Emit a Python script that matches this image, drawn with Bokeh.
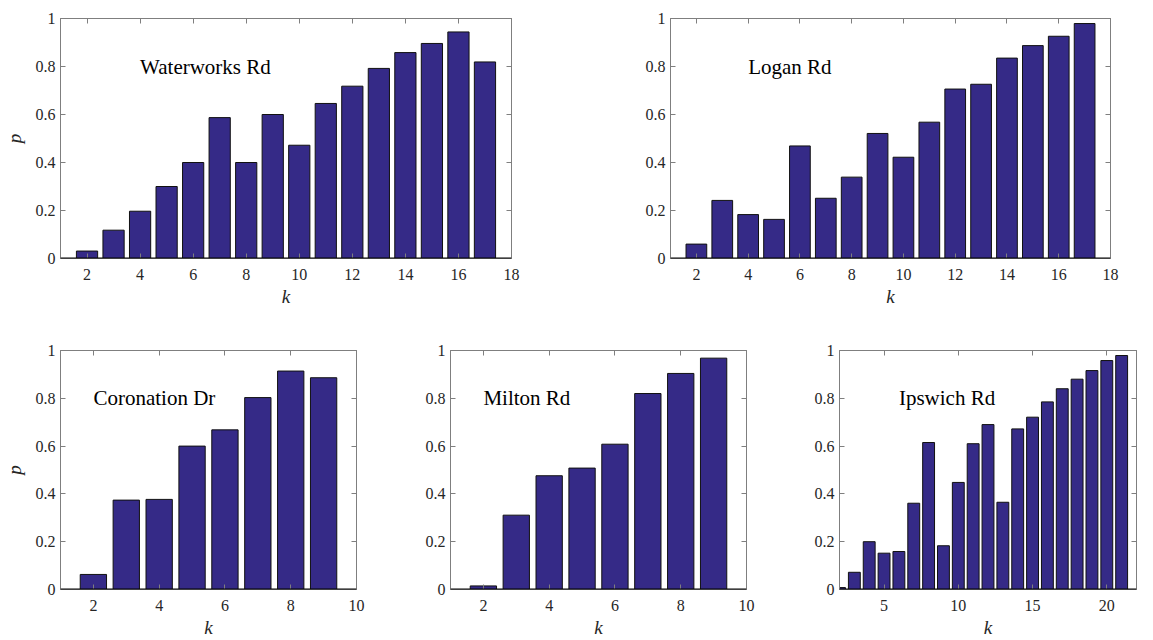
from bokeh.plotting import figure
from bokeh.layouts import column, row
from bokeh.models import LinearAxis, FixedTicker, Span, Range1d, Label
from bokeh.embed import file_html
from bokeh.resources import INLINE

# ---- data ----
names = ["Waterworks Rd", "Logan Rd", "Coronation Dr", "Milton Rd", "Ipswich Rd"]

k_waterworks = list(range(2, 18))
p_waterworks = [0.031, 0.118, 0.197, 0.30, 0.40, 0.587, 0.40, 0.60, 0.472, 0.646,
                0.718, 0.792, 0.858, 0.896, 0.944, 0.819]

k_logan = list(range(2, 18))
p_logan = [0.06, 0.242, 0.183, 0.163, 0.469, 0.251, 0.339, 0.521, 0.422, 0.568,
           0.706, 0.726, 0.835, 0.887, 0.926, 0.979]

k_coronation = list(range(2, 10))
p_coronation = [0.063, 0.374, 0.377, 0.60, 0.668, 0.803, 0.914, 0.886]

k_milton = list(range(2, 10))
p_milton = [0.015, 0.311, 0.476, 0.508, 0.608, 0.82, 0.904, 0.968]

k_ipswich = list(range(2, 22))
p_ipswich = [0.008, 0.072, 0.20, 0.152, 0.159, 0.361, 0.615, 0.183, 0.448, 0.61,
             0.69, 0.365, 0.672, 0.721, 0.785, 0.84, 0.88, 0.916, 0.958, 0.979]

ticks_wide = [2, 4, 6, 8, 10, 12, 14, 16, 18]
ticks_short = [2, 4, 6, 8, 10]
ticks_ipswich = [5, 10, 15, 20]
y_ticks = [0, 0.2, 0.4, 0.6, 0.8, 1]

SERIF = "Liberation Serif"
BAR = "#352a87"
AXC = "#7f7f7f"
TXT = "#262626"


def panel(k, p, name, xr, xticks, text_x, fw, fh, bl, br, bt, bb, ylabel):
    f = figure(x_range=Range1d(*xr), y_range=Range1d(0, 1),
               frame_width=fw, frame_height=fh,
               output_backend="svg", toolbar_location=None,
               min_border_left=bl, min_border_right=br,
               min_border_top=bt, min_border_bottom=bb,
               x_axis_label="k", y_axis_label="p" if ylabel else None)
    f.grid.visible = False
    f.outline_line_color = AXC
    f.outline_line_width = 1
    f.background_fill_color = "white"
    f.border_fill_color = "white"

    f.vbar(x=k, top=p, width=0.8, bottom=0, fill_color=BAR,
           line_color="#111111", line_width=1)
    f.add_layout(Span(location=0, dimension="width", line_color="black", line_width=2))
    f.add_layout(Label(x=text_x, y=0.8, text=name, text_font=SERIF,
                       text_font_size="21px", text_baseline="middle",
                       text_align="left", text_color="black"))

    for ax, tk in ((f.xaxis[0], xticks), (f.yaxis[0], y_ticks)):
        ax.ticker = FixedTicker(ticks=tk)
        ax.axis_line_color = AXC
        ax.major_tick_line_color = AXC
        ax.major_tick_in = 5
        ax.major_tick_out = 0
        ax.minor_tick_line_color = None
        ax.major_label_text_font = SERIF
        ax.major_label_text_font_size = "16px"
        ax.major_label_text_color = TXT
        ax.axis_label_text_font = SERIF
        ax.axis_label_text_font_style = "italic"
        ax.axis_label_text_font_size = "19px"
        ax.axis_label_text_color = TXT
    f.yaxis[0].major_label_overrides = {0: "0", 1: "1"}
    f.xaxis[0].major_label_standoff = 10
    f.xaxis[0].axis_label_standoff = 3
    f.yaxis[0].major_label_standoff = 5
    f.yaxis[0].axis_label_standoff = 8

    for loc, tk in (("above", xticks), ("right", y_ticks)):
        a = LinearAxis(ticker=FixedTicker(ticks=tk), axis_line_color=AXC,
                       major_tick_line_color=AXC, major_tick_in=5, major_tick_out=0,
                       minor_tick_line_color=None, major_label_text_color=None,
                       major_label_standoff=0)
        f.add_layout(a, loc)
    return f


p1 = panel(k_waterworks, p_waterworks, names[0], (1, 18), ticks_wide, 4,
           451, 240, 51, 20, 18, 58, True)
p2 = panel(k_logan, p_logan, names[1], (1, 18), ticks_wide, 4,
           440, 240, 139, 20, 18, 58, False)
p3 = panel(k_coronation, p_coronation, names[2], (1, 10), ticks_short, 2,
           296, 239, 54, 20, 34, 40, True)
p4 = panel(k_milton, p_milton, names[3], (1, 10), ticks_short, 2,
           296, 239, 74, 20, 34, 40, False)
p5 = panel(k_ipswich, p_ipswich, names[4], (2, 22), ticks_ipswich, 6,
           297, 239, 73, 5, 34, 40, False)

layout = column(row(p1, p2, spacing=0), row(p3, p4, p5, spacing=0), spacing=0)
open("out.html", "w").write(file_html(layout, INLINE))
